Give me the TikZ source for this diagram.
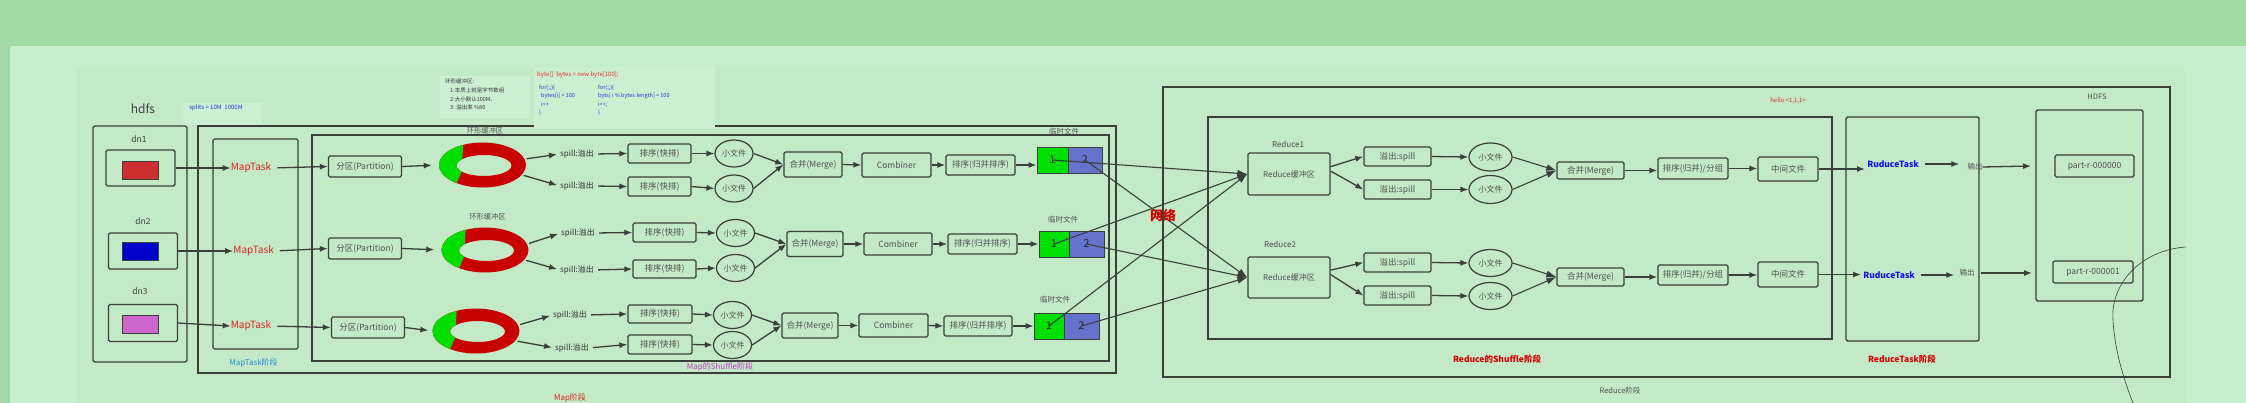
\documentclass[tikz,border=0pt]{standalone}
\usepackage{fontspec}
\setmainfont{Noto Sans CJK SC}
\usetikzlibrary{shapes.geometric,arrows.meta}
\definecolor{bandgreen}{HTML}{A0D8A6}
\definecolor{pagegreen}{HTML}{C8EDCC}
\definecolor{innergreen}{HTML}{C3E9C6}
\definecolor{notegreen}{HTML}{CDEFD1}
\definecolor{linegray}{HTML}{3A3F3A}
\definecolor{textgray}{HTML}{505050}
\definecolor{taskred}{HTML}{DD2222}
\definecolor{codered}{HTML}{E03030}
\definecolor{codeblue}{HTML}{2233DD}
\definecolor{ringred}{HTML}{C80000}
\definecolor{ringgreen}{HTML}{00DD00}
\definecolor{tmpgreen}{HTML}{00E000}
\definecolor{tmpblue}{HTML}{6673CC}
\definecolor{dnred}{HTML}{CC3030}
\definecolor{dnblue}{HTML}{0000CC}
\definecolor{dnpink}{HTML}{CC66CC}
\definecolor{stageblue}{HTML}{2A8AD8}
\definecolor{stagepink}{HTML}{C040C0}
\definecolor{taskblue}{HTML}{1111EE}

\begin{document}
\begin{tikzpicture}[x=1pt, y=-1pt,
    stagebox/.style={draw=linegray, line width=1.4pt},
    pbox/.style 2 args={draw=linegray, line width=1.3pt, rounded corners=1.5pt, minimum width=#1pt, minimum height=#2pt, inner sep=0pt, text=textgray, font=\fontsize{8.5}{9}\selectfont},
    pfile/.style={draw=linegray, line width=1.2pt, ellipse, minimum width=38pt, minimum height=27pt, inner sep=0pt, text=textgray, font=\fontsize{8}{9}\selectfont},
    blk/.style={draw=linegray, line width=0.8pt, minimum width=36pt, minimum height=18pt, inner sep=0pt},
    tmpbox/.style={draw=linegray, line width=0.8pt, minimum height=26pt, inner sep=0pt, text=black!85, font=\fontsize{11}{11}\selectfont},
    lbl/.style={inner sep=0pt, text=textgray, font=\fontsize{8}{9}\selectfont},
    spilllbl/.style={inner sep=0pt, text=black!80, font=\fontsize{8}{9}\selectfont},
    tasklbl/.style={inner sep=0pt, text=taskred, font=\fontsize{10}{10}\selectfont},
    rtasklbl/.style={inner sep=0pt, text=taskblue, font=\bfseries\fontsize{8.5}{9}\selectfont},
    flow/.style={draw=linegray, line width=1.3pt, -{Latex[length=8pt,width=6pt]}},
    net/.style={draw=linegray, line width=1.1pt, -{Latex[length=10pt,width=7pt]}}]
    \useasboundingbox (0,0) rectangle (2246,403);
    \fill[bandgreen] (0,0) rectangle (2246,403);
    \fill[pagegreen] (10,46) rectangle (2246,403);
    \fill[innergreen] (77,67) rectangle (2185,403);

    \draw[stagebox, rounded corners=1.5pt] (93,126) rectangle (187,362);
    \draw[stagebox] (198,126) rectangle (1116,373);
    \draw[stagebox] (312,135) rectangle (1109,361);
    \draw[stagebox, rounded corners=1.5pt] (213,139) rectangle (298,349);
    \draw[stagebox] (1163,87) rectangle (2170,377);
    \draw[stagebox] (1208,117) rectangle (1832,339);
    \draw[stagebox, rounded corners=1.5pt] (1846,117) rectangle (1979,341);
    \draw[stagebox, rounded corners=1.5pt] (2036,110) rectangle (2143,301);

    \fill[notegreen] (183,103) rectangle (262,125);
    \fill[notegreen] (440,76) rectangle (530,118);
    \fill[notegreen] (534,67) rectangle (715,128);

    \node[lbl, text=black!75, font=\fontsize{12}{12}\selectfont] (hdfslbl) at (143,109) {hdfs};
    \node[lbl, text=codeblue, font=\fontsize{6}{6}\selectfont] (splits) at (216,108) {splits = 10M~~1000M};
    \node[lbl, anchor=north west, align=left, text=black!80, font=\fontsize{5.5}{8.7}\selectfont] (ringnote) at (445,79) {环形缓冲区:\\\hspace*{5pt}1:本质上就是字节数组\\\hspace*{5pt}2:大小默认100M、\\\hspace*{5pt}3: 溢出率 \%80};
    \node[lbl, anchor=west, text=codered, font=\fontsize{6}{6}\selectfont] (codehead) at (537,75) {byte[]~~bytes = new byte[100];};
    \node[lbl, anchor=north west, align=left, text=codeblue, font=\fontsize{5.5}{8.2}\selectfont] (loopa) at (539,85) {for(;;)\{\\\hspace*{2pt}bytes[i] = 100\\\hspace*{2pt}i++\\\}};
    \node[lbl, anchor=north west, align=left, text=codeblue, font=\fontsize{5.5}{8.2}\selectfont] (loopb) at (598,85) {for(;;)\{\\byts[ i \% bytes.length] = 100\\i++;\\\}};

    \node[lbl, text=black!75, font=\fontsize{8.5}{9}\selectfont] (dn1) at (139,139) {dn1};
    \node[lbl, text=black!75, font=\fontsize{8.5}{9}\selectfont] (dn2) at (143,221) {dn2};
    \node[lbl, text=black!75, font=\fontsize{8.5}{9}\selectfont] (dn3) at (140,291) {dn3};
    \node[pbox={69}{36}] (dn1box) at (140.5,168) {};
    \node[pbox={69}{36}] (dn2box) at (143,251) {};
    \node[pbox={69}{37}] (dn3box) at (143,323) {};
    \node[blk, fill=dnred] (blk1) at (140.5,170) {};
    \node[blk, fill=dnblue] (blk2) at (140.5,251.5) {};
    \node[blk, fill=dnpink] (blk3) at (140.5,324) {};

    \node[tasklbl] (mt1) at (251,168) {MapTask};
    \node[tasklbl] (mt2) at (253.6,251) {MapTask};
    \node[tasklbl] (mt3) at (251,326) {MapTask};
    \node[lbl, text=stageblue] (mtstage) at (253.6,363) {MapTask阶段};
    \draw[flow] (dn1box.east) -- (mt1.west);
    \draw[flow] (dn2box.east) -- (mt2.west);
    \draw[flow] (dn3box.east) -- (mt3.west);

    \node[pbox={73}{21}] (part1) at (365,166.5) {分区(Partition)};
    \node[pbox={73}{21}] (part2) at (365,248.5) {分区(Partition)};
    \node[pbox={73}{21}] (part3) at (368,327.5) {分区(Partition)};
    \draw[flow, shorten <=6pt] (mt1.east) -- (part1.west);
    \draw[flow, shorten <=6pt] (mt2.east) -- (part2.west);
    \draw[flow, shorten <=6pt] (mt3.east) -- (part3.west);

    \node[ellipse, minimum width=87pt, minimum height=44pt, inner sep=0pt] (ring1) at (482.5,165) {};
    \node[ellipse, minimum width=87pt, minimum height=44pt, inner sep=0pt] (ring2) at (485,250) {};
    \node[ellipse, minimum width=87pt, minimum height=46pt, inner sep=0pt] (ring3) at (476,331) {};
    \foreach \r in {ring1,ring2,ring3}{
        \begin{scope}[shift={(\r.center)}]
            \fill[ringred, even odd rule] (0,0) ellipse [x radius=43.5, y radius=22.5] (1.5,0.5) ellipse [x radius=27.5, y radius=10.5];
            \begin{scope}[even odd rule]
                \clip (0,0) ellipse [x radius=43.5, y radius=22.5] (1.5,0.5) ellipse [x radius=27.5, y radius=10.5];
                \fill[ringgreen] (-60,-30) -- (-19,-30) -- (-20,-8) -- (-21,7) -- (-29,25) -- (-60,30) -- cycle;
            \end{scope}
        \end{scope}
    }
    \node[lbl, font=\fontsize{7.3}{8}\selectfont] (buf1) at (485,131) {环形缓冲区};
    \node[lbl, font=\fontsize{7.3}{8}\selectfont] (buf2) at (487.5,217) {环形缓冲区};
    \draw[flow, shorten >=7pt] (part1.east) -- (ring1.west);
    \draw[flow, shorten >=7pt] (part2.east) -- (ring2.west);
    \draw[flow, shorten >=4pt] (part3.east) -- (ring3.west);

    \node[spilllbl] (sp11) at (577,154) {spill:溢出};
    \node[spilllbl] (sp12) at (577,186) {spill:溢出};
    \node[spilllbl] (sp21) at (578,233) {spill:溢出};
    \node[spilllbl] (sp22) at (577,270) {spill:溢出};
    \node[spilllbl] (sp31) at (570,315) {spill:溢出};
    \node[spilllbl] (sp32) at (572,348) {spill:溢出};
    \draw[flow, shorten <=2pt, shorten >=3pt] (ring1.8) -- (sp11.west);
    \draw[flow, shorten <=2pt, shorten >=3pt] (ring1.-14) -- (sp12.west);
    \draw[flow, shorten <=2pt, shorten >=3pt] (ring2.8) -- (sp21.west);
    \draw[flow, shorten <=2pt, shorten >=3pt] (ring2.-14) -- (sp22.west);
    \draw[flow, shorten <=2pt, shorten >=3pt] (ring3.8) -- (sp31.west);
    \draw[flow, shorten <=2pt, shorten >=3pt] (ring3.-14) -- (sp32.west);

    \node[pbox={63}{19}] (so11) at (659.5,153.5) {排序(快排)};
    \node[pbox={63}{19}] (so12) at (659.5,186.5) {排序(快排)};
    \node[pbox={63}{19}] (so21) at (664.5,232.5) {排序(快排)};
    \node[pbox={63}{18}] (so22) at (664.5,269) {排序(快排)};
    \node[pbox={64}{18}] (so31) at (660,314) {排序(快排)};
    \node[pbox={64}{19}] (so32) at (660,344.5) {排序(快排)};
    \draw[flow, shorten <=4pt] (sp11.east) -- (so11.west);
    \draw[flow, shorten <=4pt] (sp12.east) -- (so12.west);
    \draw[flow, shorten <=4pt] (sp21.east) -- (so21.west);
    \draw[flow, shorten <=4pt] (sp22.east) -- (so22.west);
    \draw[flow, shorten <=4pt] (sp31.east) -- (so31.west);
    \draw[flow, shorten <=4pt] (sp32.east) -- (so32.west);

    \node[pfile] (sf11) at (734,153.5) {小文件};
    \node[pfile] (sf12) at (734,188.5) {小文件};
    \node[pfile] (sf21) at (735.5,233) {小文件};
    \node[pfile] (sf22) at (735.5,268) {小文件};
    \node[pfile] (sf31) at (732.5,315) {小文件};
    \node[pfile] (sf32) at (732.5,345) {小文件};
    \draw[flow] (so11.east) -- (sf11.west);
    \draw[flow] (so12.east) -- (sf12.west);
    \draw[flow] (so21.east) -- (sf21.west);
    \draw[flow] (so22.east) -- (sf22.west);
    \draw[flow] (so31.east) -- (sf31.west);
    \draw[flow] (so32.east) -- (sf32.west);

    \node[pbox={58}{25}] (mg1) at (813,164.5) {合并(Merge)};
    \node[pbox={56}{25}] (mg2) at (815,244) {合并(Merge)};
    \node[pbox={56}{25}] (mg3) at (810,325.5) {合并(Merge)};
    \draw[flow] (sf11.east) -- (mg1.west);
    \draw[flow] (sf12.east) -- (mg1.west);
    \draw[flow] (sf21.east) -- (mg2.west);
    \draw[flow] (sf22.east) -- (mg2.west);
    \draw[flow] (sf31.east) -- (mg3.west);
    \draw[flow] (sf32.east) -- (mg3.west);

    \node[pbox={69}{24}] (cb1) at (896.5,165) {Combiner};
    \node[pbox={68}{22}] (cb2) at (898,244) {Combiner};
    \node[pbox={69}{23}] (cb3) at (893.5,325.5) {Combiner};
    \node[pbox={69}{20}] (ms1) at (980.5,165) {排序(归并排序)};
    \node[pbox={69}{20}] (ms2) at (982.5,244) {排序(归并排序)};
    \node[pbox={68}{20}] (ms3) at (978,326) {排序(归并排序)};
    \draw[flow] (mg1.east) -- (cb1.west);
    \draw[flow] (mg2.east) -- (cb2.west);
    \draw[flow] (mg3.east) -- (cb3.west);
    \draw[flow] (cb1.east) -- (ms1.west);
    \draw[flow] (cb2.east) -- (ms2.west);
    \draw[flow] (cb3.east) -- (ms3.west);

    \node[tmpbox, fill=tmpgreen, minimum width=31pt] (t1a) at (1052.5,160) {1};
    \node[tmpbox, fill=tmpblue, minimum width=34pt] (t1b) at (1085,160) {2};
    \node[tmpbox, fill=tmpgreen, minimum width=30pt] (t2a) at (1054,244) {1};
    \node[tmpbox, fill=tmpblue, minimum width=35pt] (t2b) at (1086.5,244) {2};
    \node[tmpbox, fill=tmpgreen, minimum width=30pt] (t3a) at (1049,326) {1};
    \node[tmpbox, fill=tmpblue, minimum width=35pt] (t3b) at (1081.5,326) {2};
    \node[lbl, font=\fontsize{7.5}{8}\selectfont] (tmp1) at (1064,132) {临时文件};
    \node[lbl, font=\fontsize{7.5}{8}\selectfont] (tmp2) at (1063,220) {临时文件};
    \node[lbl, font=\fontsize{7.5}{8}\selectfont] (tmp3) at (1055,300) {临时文件};
    \draw[flow] (ms1.east) -- (ms1.east -| t1a.west);
    \draw[flow] (ms2.east) -- (t2a.west);
    \draw[flow] (ms3.east) -- (t3a.west);

    \node[lbl, text=stagepink] (mapshuf) at (720,367) {Map的Shuffle阶段};
    \node[lbl, text=taskred] (mapstage) at (570,398) {Map阶段};

    \node[lbl, text=black!70] (rd1lbl) at (1288,144) {Reduce1};
    \node[lbl, text=black!70] (rd2lbl) at (1280,244) {Reduce2};
    \node[pbox={82}{42}, font=\fontsize{8}{9}\selectfont] (rd1) at (1289,174) {Reduce缓冲区};
    \node[pbox={82}{41}, font=\fontsize{8}{9}\selectfont] (rd2) at (1289,277.5) {Reduce缓冲区};
    \draw[net] (t1a.center) -- (rd1.west);
    \draw[net] (t2a.center) -- (rd1.west);
    \draw[net] (t3a.center) -- (rd1.west);
    \draw[net] (t1b.center) -- (rd2.west);
    \draw[net] (t2b.center) -- (rd2.west);
    \draw[net] (t3b.center) -- (rd2.west);
    \node[inner sep=0pt, text=red!80!black, font=\bfseries\fontsize{13}{13}\selectfont] (netlbl) at (1163,215) {网络};

    \node[pbox={67}{19}] (rs11) at (1397.5,156.5) {溢出:spill};
    \node[pbox={67}{19}] (rs12) at (1397.5,189.5) {溢出:spill};
    \node[pbox={67}{19}] (rs21) at (1397.5,262.5) {溢出:spill};
    \node[pbox={67}{19}] (rs22) at (1397.5,295.5) {溢出:spill};
    \draw[flow] (rd1.10) -- (rs11.west);
    \draw[flow] (rd1.4) -- (rs12.west);
    \draw[flow] (rd2.10) -- (rs21.west);
    \draw[flow] (rd2.4) -- (rs22.west);

    \node[pfile, minimum width=43pt, minimum height=28pt] (rf11) at (1490.5,157) {小文件};
    \node[pfile, minimum width=43pt, minimum height=28pt] (rf12) at (1490.5,189.5) {小文件};
    \node[pfile, minimum width=43pt, minimum height=27pt] (rf21) at (1490.5,263) {小文件};
    \node[pfile, minimum width=43pt, minimum height=27pt] (rf22) at (1490.5,296) {小文件};
    \draw[flow] (rs11.east) -- (rf11.west);
    \draw[flow] (rs12.east) -- (rf12.west);
    \draw[flow] (rs21.east) -- (rf21.west);
    \draw[flow] (rs22.east) -- (rf22.west);

    \node[pbox={67}{17}] (rm1) at (1590.5,170.5) {合并(Merge)};
    \node[pbox={67}{18}] (rm2) at (1590.5,277) {合并(Merge)};
    \draw[net] (rf11.east) -- (rm1.west);
    \draw[net] (rf12.east) -- (rm1.west);
    \draw[net] (rf21.east) -- (rm2.west);
    \draw[net] (rf22.east) -- (rm2.west);

    \node[pbox={70}{21}] (rg1) at (1693,168.5) {排序(归并)/分组};
    \node[pbox={70}{20}] (rg2) at (1693,275) {排序(归并)/分组};
    \node[pbox={60}{24}] (rmid1) at (1788,169) {中间文件};
    \node[pbox={60}{25}] (rmid2) at (1788,274.5) {中间文件};
    \draw[flow] (rm1.east) -- (rm1.east -| rg1.west);
    \draw[flow] (rm2.east) -- (rm2.east -| rg2.west);
    \draw[flow] (rg1.east) -- (rg1.east -| rmid1.west);
    \draw[flow] (rg2.east) -- (rg2.east -| rmid2.west);

    \node[rtasklbl] (rt1) at (1893,164) {RuduceTask};
    \node[rtasklbl] (rt2) at (1889,275) {RuduceTask};
    \node[lbl, font=\fontsize{7.5}{8}\selectfont] (out1) at (1975,167) {输出};
    \node[lbl, font=\fontsize{7.5}{8}\selectfont] (out2) at (1967,273) {输出};
    \draw[flow, shorten >=2pt] (rmid1.east) -- (rmid1.east -| rt1.west);
    \draw[flow, shorten >=2pt] (rmid2.east) -- (rmid2.east -| rt2.west);
    \draw[flow, shorten <=6pt, shorten >=8pt] (rt1.east) -- (rt1.east -| out1.west);
    \draw[flow, shorten <=6pt, shorten >=5pt] (rt2.east) -- (rt2.east -| out2.west);

    \node[lbl, font=\fontsize{7.5}{8}\selectfont] (hdfsout) at (2097,97) {HDFS};
    \node[pbox={79}{22}] (pr1) at (2094.5,166) {part-r-000000};
    \node[pbox={80}{22}] (pr2) at (2093,272) {part-r-000001};
    \coordinate (o1) at (2031,166);
    \coordinate (o2) at (2032,273);
    \draw[flow] (out1.east) -- (o1);
    \draw[flow, shorten <=6pt] (out2.east) -- (o2);

    \node[lbl, text=codered, font=\fontsize{6}{6}\selectfont] (hello) at (1788,101) {hello <1,1,1>};
    \node[lbl, text=red!85!black, font=\bfseries\fontsize{8.5}{9}\selectfont] (rshuf) at (1497,359) {Reduce的Shuffle阶段};
    \node[lbl, text=red!85!black, font=\bfseries\fontsize{8.5}{9}\selectfont] (rtstage) at (1902,359) {ReduceTask阶段};
    \node[lbl, font=\fontsize{7.5}{8}\selectfont] (rstage) at (1620,391) {Reduce阶段};

    \draw[linegray, line width=0.6pt] (2186,247) .. controls (2140,250) and (2110,285) .. (2113,320) .. controls (2115,355) and (2126,385) .. (2133,403);
\end{tikzpicture}
\end{document}
